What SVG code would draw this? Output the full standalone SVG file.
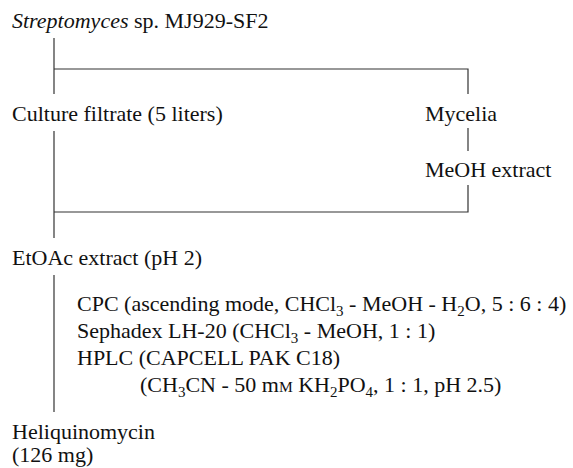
<svg xmlns="http://www.w3.org/2000/svg" width="573" height="468" viewBox="0 0 573 468">
<style>
text{font-family:"Liberation Serif","Times New Roman",serif;font-size:22px;fill:#111}
.sub{font-size:15px}
.ln{stroke:#333;stroke-width:1.2;fill:none}
</style>
<rect width="573" height="468" fill="#fff"/>
<g id="connectors">
<path class="ln" d="M54,38 V94"/>
<path class="ln" d="M54,69 H468 V94"/>
<path class="ln" d="M468,128 V151"/>
<path class="ln" d="M468,185 V212 H54"/>
<path class="ln" d="M54,131 V238"/>
<path class="ln" d="M54,275 V412"/>
</g>
<g id="n-strain"><text x="12" y="28"><tspan font-style="italic">Streptomyces</tspan> sp. MJ929-SF2</text></g>
<g id="n-filtrate"><text x="12" y="121">Culture filtrate (5 liters)</text></g>
<g id="n-mycelia"><text x="425" y="121">Mycelia</text></g>
<g id="n-meoh"><text x="425" y="177">MeOH extract</text></g>
<g id="n-etoac"><text x="12" y="265">EtOAc extract (pH 2)</text></g>
<g id="n-steps">
<text x="77" y="311">CPC (ascending mode, CHCl<tspan class="sub" dy="5">3</tspan><tspan dy="-5"> - MeOH - H</tspan><tspan class="sub" dy="5">2</tspan><tspan dy="-5">O, 5 : 6 : 4)</tspan></text>
<text x="77" y="338">Sephadex LH-20 (CHCl<tspan class="sub" dy="5">3</tspan><tspan dy="-5"> - MeOH, 1 : 1)</tspan></text>
<text x="77" y="365">HPLC (CAPCELL PAK C18)</text>
<text x="140" y="392">(CH<tspan class="sub" dy="5">3</tspan><tspan dy="-5">CN - 50 m</tspan><tspan font-size="15.5">M</tspan> KH<tspan class="sub" dy="5">2</tspan><tspan dy="-5">PO</tspan><tspan class="sub" dy="5">4</tspan><tspan dy="-5">, 1 : 1, pH 2.5)</tspan></text>
</g>
<g id="n-product"><text x="12" y="439">Heliquinomycin</text><text x="12" y="462">(126 mg)</text></g>
</svg>
